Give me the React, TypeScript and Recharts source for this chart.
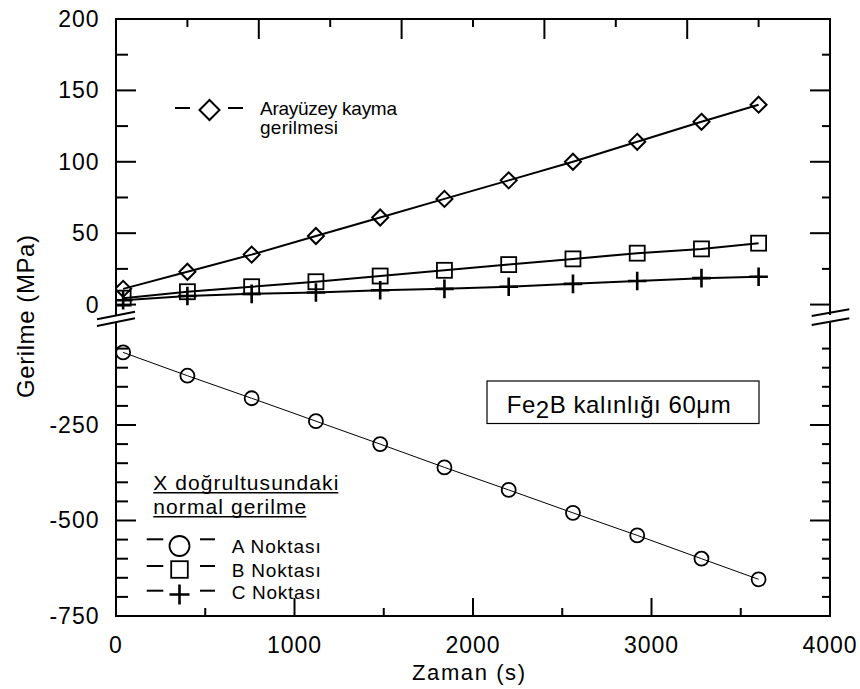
import React from "react";
import { LineChart, Line, XAxis, YAxis, Legend } from "recharts";

// time (s) of each computed point
const time = [40, 400, 760, 1120, 1480, 1840, 2200, 2560, 2920, 3280, 3600];
// upper segment (MPa)
const interfaceShear = [11, 23, 35, 48, 61, 74, 87, 100, 114, 128, 140];
const pointB = [4.5, 9, 12.5, 16, 20, 24, 28, 32, 36, 39, 43];
const pointC = [3, 6, 7.5, 8.5, 10, 11, 12.5, 14.5, 16.5, 18.5, 19.5];
// lower segment (MPa)
const pointA = [-60, -121, -180, -240, -300, -361, -420, -480, -539, -600, -654];

const bottomTicks = [0, 500, 1000, 1500, 2000, 2500, 3000, 3500, 4000];
const bottomLabels = [0, 1000, 2000, 3000, 4000];
const topTicks = [400, 800, 1200, 1600, 2000, 2400, 2800, 3200, 3600];
const topMajor = [800, 1600, 2400, 3200];
const upperTicks = [0, 25, 50, 75, 100, 125, 150, 175, 200];
const upperLabels = [0, 50, 100, 150, 200];
const lowerTicks = [-750, -700, -650, -600, -550, -500, -450, -400, -350, -300, -250, -200, -150, -100, -50];
const lowerLabels = [-750, -500, -250];

const upperData = time.map((t, i) => ({ t, shear: interfaceShear[i], b: pointB[i], c: pointC[i] }));
const lowerData = time.map((t, i) => ({ t, a: pointA[i] }));

const FONT = "'Liberation Sans', Arial, Helvetica, sans-serif";
const PL = 116;
const PR = 830;
const UT = 19;
const UB = 314;
const LT = 323;
const LB = 616;
const W = 860;
const H = 689;
const AX = 1; // axis box size

const axisLine = { stroke: "#000", strokeWidth: 2, strokeLinecap: "square" as const };

const leftTick = (labels: number[], minor: number) => (p: any) => {
  const v = p.payload.value;
  const major = labels.includes(v);
  return (
    <g>
      <line x1={PL} x2={PL + (major ? 20 : minor)} y1={p.y} y2={p.y} stroke="#000" strokeWidth={2} />
      {major && (
        <text x={99.5} y={p.y + 8} textAnchor="end" fontSize={23} fontFamily={FONT} letterSpacing={1} fill="#000">
          {v}
        </text>
      )}
    </g>
  );
};

const rightTick = (labels: number[]) => (p: any) => {
  const major = labels.includes(p.payload.value);
  return <line x1={PR} x2={PR - (major ? 20 : 8)} y1={p.y} y2={p.y} stroke="#000" strokeWidth={2} />;
};

const topTick = (p: any) => {
  const major = topMajor.includes(p.payload.value);
  return <line x1={p.x} x2={p.x} y1={UT} y2={UT + (major ? 20 : 8)} stroke="#000" strokeWidth={2} />;
};

const bottomTick = (p: any) => {
  const v = p.payload.value;
  const major = bottomLabels.includes(v);
  return (
    <g>
      <line x1={p.x} x2={p.x} y1={LB} y2={LB - (major ? 18 : 8)} stroke="#000" strokeWidth={2} />
      {major && (
        <text x={p.x} y={653} textAnchor="middle" fontSize={23} fontFamily={FONT} letterSpacing={1} fill="#000">
          {v}
        </text>
      )}
    </g>
  );
};

const diamond = (cx: number, cy: number, r: number, key?: any) => (
  <path key={key} d={`M${cx},${cy - r}L${cx + r},${cy}L${cx},${cy + r}L${cx - r},${cy}Z`} fill="none" stroke="#000" strokeWidth={2} />
);
const square = (cx: number, cy: number, h: number, key?: any) => (
  <rect key={key} x={cx - h} y={cy - h} width={2 * h} height={2 * h} fill="none" stroke="#000" strokeWidth={1.8} />
);
const circle = (cx: number, cy: number, r: number, key?: any) => (
  <circle key={key} cx={cx} cy={cy} r={r} fill="none" stroke="#000" strokeWidth={1.8} />
);
const plus = (cx: number, cy: number, h: number, key?: any) => (
  <path key={key} d={`M${cx - h},${cy}H${cx + h}M${cx},${cy - h}V${cy + h}`} fill="none" stroke="#000" strokeWidth={2.6} />
);

const legendText = { fontSize: 19, fontFamily: FONT, fill: "#000" };

const UpperLegend = () => (
  <svg width={260} height={55} style={{ overflow: "visible" }}>
    <line x1={15} x2={30} y1={18} y2={18} stroke="#000" strokeWidth={2} />
    {diamond(49.5, 20, 10)}
    <line x1={68} x2={83} y1={18} y2={18} stroke="#000" strokeWidth={2} />
    <text x={100} y={25} {...legendText} textLength={137} lengthAdjust="spacing">Arayüzey kayma</text>
    <text x={100} y={44} {...legendText} textLength={78} lengthAdjust="spacing">gerilmesi</text>
  </svg>
);

const LowerLegend = () => {
  const rows = [
    { name: "A Noktası", dash: 79.3, my: 86, mark: (x: number, y: number) => circle(x, y, 10), base: 93.3 },
    { name: "B Noktası", dash: 106, my: 109.5, mark: (x: number, y: number) => square(x, y, 8.3), base: 116.7 },
    { name: "C Noktası", dash: 130.7, my: 134.5, mark: (x: number, y: number) => plus(x, y, 10), base: 139.3 },
  ];
  return (
    <svg width={260} height={150} style={{ overflow: "visible" }}>
      <text x={23.3} y={30} fontSize={21} fontFamily={FONT} fill="#000" textLength={185} lengthAdjust="spacing">X doğrultusundaki</text>
      <line x1={23.3} x2={208.3} y1={32.8} y2={32.8} stroke="#000" strokeWidth={1.5} />
      <text x={23.3} y={54} fontSize={21} fontFamily={FONT} fill="#000" textLength={153} lengthAdjust="spacing">normal gerilme</text>
      <line x1={23.3} x2={176.3} y1={56.8} y2={56.8} stroke="#000" strokeWidth={1.5} />
      {rows.map((r) => (
        <g key={r.name}>
          <line x1={16.7} x2={33.3} y1={r.dash} y2={r.dash} stroke="#000" strokeWidth={2} />
          {r.mark(49.5, r.my)}
          <line x1={70} x2={85} y1={r.dash} y2={r.dash} stroke="#000" strokeWidth={2} />
          <text x={101.7} y={r.base} {...legendText} textLength={89} lengthAdjust="spacing">{r.name}</text>
        </g>
      ))}
    </svg>
  );
};

export default function App() {
  return (
    <div style={{ position: "absolute", left: 0, top: 0, width: W, height: H, background: "#fff" }}>
      {/* upper segment: 0 .. 200 MPa */}
      <div style={{ position: "absolute", left: 0, top: 0 }}>
        <LineChart width={W} height={H} data={upperData}
          margin={{ top: UT - AX, left: PL - AX, right: W - PR - AX, bottom: H - UB }}>
          <XAxis
            type="number"
            dataKey="t"
            orientation="top"
            domain={[0, 4000]}
            allowDataOverflow
            ticks={topTicks}
            interval={0}
            height={AX}
            tickLine={false}
            axisLine={axisLine}
            tick={topTick}
          />
          <YAxis
            yAxisId="L"
            type="number"
            domain={[-6.6, 200]}
            allowDataOverflow
            ticks={upperTicks}
            interval={0}
            width={AX}
            tickLine={false}
            axisLine={axisLine}
            tick={leftTick(upperLabels, 12)}
          />
          <YAxis
            yAxisId="R"
            orientation="right"
            type="number"
            domain={[-6.6, 200]}
            allowDataOverflow
            ticks={upperTicks}
            interval={0}
            width={AX}
            tickLine={false}
            axisLine={axisLine}
            tick={rightTick(upperLabels)}
          />
          <Line yAxisId="L" type="linear" dataKey="shear" name="Arayüzey kayma gerilmesi" stroke="#000" strokeWidth={2}
            isAnimationActive={false} dot={(p: any) => diamond(p.cx, p.cy, 8, p.index)} />
          <Line yAxisId="L" type="linear" dataKey="b" name="B Noktası" stroke="#000" strokeWidth={2}
            isAnimationActive={false} dot={(p: any) => square(p.cx, p.cy, 7.5, p.index)} />
          <Line yAxisId="L" type="linear" dataKey="c" name="C Noktası" stroke="#000" strokeWidth={2}
            isAnimationActive={false} dot={(p: any) => plus(p.cx, p.cy, 9.3, p.index)} />
          <Legend
            layout="horizontal"
            verticalAlign="middle"
            align="center"
            wrapperStyle={{ left: 160, top: 90, right: "auto", bottom: "auto", width: 260, height: 55 }}
            content={() => <UpperLegend />}
          />
        </LineChart>
      </div>

      {/* lower segment: -750 .. 0 MPa */}
      <div style={{ position: "absolute", left: 0, top: 0 }}>
        <LineChart width={W} height={H} data={lowerData}
          margin={{ top: LT, left: PL - AX, right: W - PR - AX, bottom: H - LB - AX }}>
          <XAxis
            type="number"
            dataKey="t"
            domain={[0, 4000]}
            allowDataOverflow
            ticks={bottomTicks}
            interval={0}
            height={AX}
            tickLine={false}
            axisLine={axisLine}
            tick={bottomTick}
          />
          <YAxis
            yAxisId="L"
            type="number"
            domain={[-750, 17]}
            allowDataOverflow
            ticks={lowerTicks}
            interval={0}
            width={AX}
            tickLine={false}
            axisLine={axisLine}
            tick={leftTick(lowerLabels, 12)}
          />
          <YAxis
            yAxisId="R"
            orientation="right"
            type="number"
            domain={[-750, 17]}
            allowDataOverflow
            ticks={lowerTicks}
            interval={0}
            width={AX}
            tickLine={false}
            axisLine={axisLine}
            tick={rightTick(lowerLabels)}
          />
          <Line yAxisId="L" type="linear" dataKey="a" name="A Noktası" stroke="#000" strokeWidth={1}
            isAnimationActive={false} dot={(p: any) => circle(p.cx, p.cy, 7, p.index)} />
          <Legend
            layout="horizontal"
            verticalAlign="middle"
            align="center"
            wrapperStyle={{ left: 130, top: 460, right: "auto", bottom: "auto", width: 260, height: 150 }}
            content={() => <LowerLegend />}
          />
        </LineChart>
      </div>

      {/* axis titles, break marks, annotation */}
      <svg width={W} height={H} style={{ position: "absolute", left: 0, top: 0, pointerEvents: "none" }}>
        <line x1={97} y1={319.3} x2={135} y2={311.7} stroke="#000" strokeWidth={2} />
        <line x1={97} y1={326} x2={135} y2={318.3} stroke="#000" strokeWidth={2} />
        <line x1={811.7} y1={316} x2={849.3} y2={309.3} stroke="#000" strokeWidth={2} />
        <line x1={811.7} y1={325} x2={849.3} y2={318.3} stroke="#000" strokeWidth={2} />
        <rect x={487} y={381} width={272} height={42.5} fill="#fff" stroke="#000" strokeWidth={1.2} />
        <text x={506.7} y={413} fontSize={24} fontFamily={FONT} fill="#000" textLength={224} lengthAdjust="spacing">
          Fe<tspan dy={5}>2</tspan><tspan dy={-5}>B kalınlığı 60μm</tspan>
        </text>
        <text x={468.5} y={680} textAnchor="middle" fontSize={22} fontFamily={FONT} fill="#000" textLength={113} lengthAdjust="spacing">
          Zaman (s)
        </text>
        <text x={33.5} y={316.5} transform="rotate(-90 33.5 316.5)" textAnchor="middle" fontSize={24} fontFamily={FONT} fill="#000"
          textLength={163} lengthAdjust="spacing">
          Gerilme (MPa)
        </text>
      </svg>
    </div>
  );
}
